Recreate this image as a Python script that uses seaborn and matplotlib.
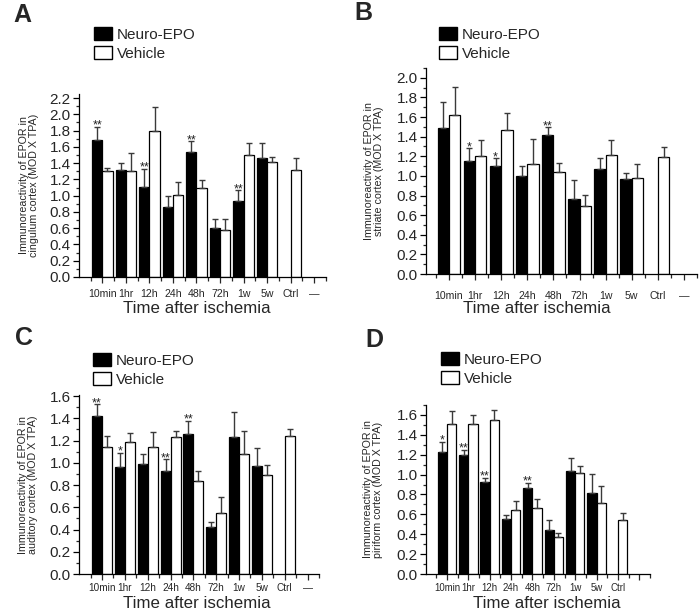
import numpy as np
import pandas as pd
import matplotlib
matplotlib.use("Agg")
import matplotlib.pyplot as plt
import seaborn as sns
from matplotlib.ticker import MultipleLocator
from matplotlib.patches import Patch

# ---------------- data ----------------
times = ['10min', '1hr', '12h', '24h', '48h', '72h', '1w', '5w', 'Ctrl', '—']
labels_abc = ['10min', '1hr', '12h', '24h', '48h', '72h', '1w', '5w', 'Ctrl', '—']
labels_d = ['10min', '1hr', '12h', '24h', '48h', '72h', '1w', '5w', 'Ctrl', '']
groups = ['Neuro-EPO', 'Vehicle']
nan = np.nan

# Panel A: cingulum cortex
a_neuro = [1.69, 1.31, 1.11, 0.86, 1.54, 0.60, 0.94, 1.46, nan]
a_neuro_err = [0.16, 0.09, 0.22, 0.13, 0.13, 0.11, 0.13, 0.19, nan]
a_vehicle = [1.30, 1.30, 1.80, 1.01, 1.10, 0.58, 1.50, 1.42, 1.31]
a_vehicle_err = [0.04, 0.22, 0.29, 0.16, 0.09, 0.13, 0.15, 0.05, 0.15]
a_stars = ['**', '', '**', '', '**', '', '**', '', '']

# Panel B: striate cortex
b_neuro = [1.49, 1.15, 1.10, 1.00, 1.42, 0.76, 1.07, 0.97, nan]
b_neuro_err = [0.26, 0.13, 0.08, 0.10, 0.08, 0.20, 0.11, 0.06, nan]
b_vehicle = [1.62, 1.20, 1.47, 1.12, 1.04, 0.69, 1.21, 0.98, 1.19]
b_vehicle_err = [0.29, 0.17, 0.17, 0.26, 0.09, 0.12, 0.16, 0.14, 0.10]
b_stars = ['', '*', '*', '', '**', '', '', '', '']

# Panel C: auditory cortex
c_neuro = [1.42, 0.96, 0.99, 0.93, 1.26, 0.42, 1.23, 0.97, nan]
c_neuro_err = [0.11, 0.13, 0.09, 0.10, 0.12, 0.05, 0.23, 0.16, nan]
c_vehicle = [1.14, 1.19, 1.14, 1.23, 0.84, 0.55, 1.08, 0.89, 1.24]
c_vehicle_err = [0.10, 0.08, 0.14, 0.06, 0.09, 0.14, 0.21, 0.09, 0.06]
c_stars = ['**', '*', '', '**', '**', '', '', '', '']

# Panel D: piriform cortex
d_neuro = [1.23, 1.20, 0.93, 0.55, 0.87, 0.44, 1.04, 0.81, nan]
d_neuro_err = [0.10, 0.05, 0.04, 0.04, 0.05, 0.10, 0.13, 0.20, nan]
d_vehicle = [1.51, 1.51, 1.55, 0.64, 0.66, 0.37, 1.02, 0.71, 0.54]
d_vehicle_err = [0.13, 0.09, 0.10, 0.09, 0.09, 0.04, 0.07, 0.18, 0.07]
d_stars = ['*', '**', '**', '', '**', '', '', '', '']

ylabel_a = 'Immunoreactivity of EPOR in\ncingulum cortex (MOD X TPA)'
ylabel_b = 'Immunoreactivity of EPOR in\nstriate cortex (MOD X TPA)'
ylabel_c = 'Immunoreactivity of EPOR in\nauditory cortex (MOD X TPA)'
ylabel_d = 'Immunoreactivity of EPOR in\npiriform cortex (MOD X TPA)'
xlabel = 'Time after ischemia'

# ---------------- style ----------------
sns.set_style('ticks')
plt.rcParams['font.family'] = ['Liberation Sans', 'DejaVu Sans']

fig = plt.figure(figsize=(7.0, 6.12), dpi=100)
W, H = 700.0, 612.0


def px_axes(left, top, right, bottom):
    return fig.add_axes([left / W, 1 - bottom / H, (right - left) / W, (bottom - top) / H])


panels = [
    dict(letter='A', neuro=a_neuro, nerr=a_neuro_err, veh=a_vehicle, verr=a_vehicle_err,
         stars=a_stars, ylabel=ylabel_a, ticklabels=labels_abc, ymax=2.25, ytop=2.2,
         box=(79, 94, 326, 277), xlim=(-0.99, 9.05), leg=(94, 27), let=(13, 3),
         xl=(197, 301), yl=39, xfs=7.6, xpad=5),
    dict(letter='B', neuro=b_neuro, nerr=b_neuro_err, veh=b_vehicle, verr=b_vehicle_err,
         stars=b_stars, ylabel=ylabel_b, ticklabels=labels_abc, ymax=2.1, ytop=2.0,
         box=(426, 68, 697, 274), xlim=(-0.88, 9.05), leg=(439, 27), let=(354, 1),
         xl=(537, 301), yl=384, xfs=7.6, xpad=8),
    dict(letter='C', neuro=c_neuro, nerr=c_neuro_err, veh=c_vehicle, verr=c_vehicle_err,
         stars=c_stars, ylabel=ylabel_c, ticklabels=labels_abc, ymax=1.61, ytop=1.6,
         box=(79, 395, 319, 574), xlim=(-1.01, 8.95), leg=(93, 353), let=(15, 326),
         xl=(197, 596), yl=38, xfs=7.2, xpad=2.5),
    dict(letter='D', neuro=d_neuro, nerr=d_neuro_err, veh=d_vehicle, verr=d_vehicle_err,
         stars=d_stars, ylabel=ylabel_d, ticklabels=labels_d, ymax=1.7, ytop=1.6,
         box=(426, 405, 650, 574), xlim=(-0.98, 8.98), leg=(441, 352), let=(365, 328),
         xl=(547, 596), yl=383, xfs=6.9, xpad=2.5),
]

for p in panels:
    left, top, right, bottom = p['box']
    ax = px_axes(left, top, right, bottom)
    rows = []
    for i, t in enumerate(times[:9]):
        if not np.isnan(p['neuro'][i]):
            rows.append((t, 'Neuro-EPO', p['neuro'][i]))
        if not np.isnan(p['veh'][i]):
            rows.append((t, 'Vehicle', p['veh'][i]))
    df = pd.DataFrame(rows, columns=['time', 'group', 'value'])
    sns.barplot(data=df, x='time', y='value', hue='group', order=times, hue_order=groups,
                palette={'Neuro-EPO': 'black', 'Vehicle': 'white'}, edgecolor='black',
                linewidth=0.9, width=0.87, errorbar=None, legend=False, ax=ax)

    errs = {'Neuro-EPO': p['nerr'], 'Vehicle': p['verr']}
    for g, cont in zip(groups, ax.containers):
        xs, ys, es = [], [], []
        for bar in cont.patches:
            h = bar.get_height()
            if h is None or np.isnan(h):
                continue
            xc = bar.get_x() + bar.get_width() / 2
            idx = int(round(xc))
            e = errs[g][idx]
            xs.append(xc); ys.append(h); es.append(e)
            if g == 'Neuro-EPO' and p['stars'][idx]:
                ax.annotate(p['stars'][idx], (xc, h + e), xytext=(0, -1.5),
                            textcoords='offset points', ha='center', va='baseline',
                            fontsize=9, color='#222222')
        ax.errorbar(xs, ys, yerr=[np.zeros(len(es)), es], fmt='none',
                    ecolor='#3a3a3a', elinewidth=1.0, capsize=2.2, capthick=1.0, zorder=3)

    ax.set_xlim(*p['xlim'])
    ax.set_ylim(0, p['ymax'])
    ax.set_yticks(np.arange(0, p['ytop'] + 0.01, 0.2))
    ax.set_yticklabels([f'{v:.1f}' for v in np.arange(0, p['ytop'] + 0.01, 0.2)])
    ax.yaxis.set_minor_locator(MultipleLocator(0.1))
    ax.set_xticks(range(len(times)))
    ax.set_xticklabels(p['ticklabels'])
    ax.set_xticks(np.arange(-0.5, len(times), 1.0), minor=True)
    ax.tick_params(axis='y', which='major', labelsize=11, length=4, width=0.9, pad=2,
                   direction='out', color='black')
    ax.tick_params(axis='y', which='minor', length=2.5, width=0.9, direction='out')
    ax.tick_params(axis='x', which='major', labelsize=p['xfs'], length=4, width=0.9,
                   pad=p['xpad'], direction='out')
    ax.tick_params(axis='x', which='minor', length=3, width=0.9, direction='out')
    sns.despine(ax=ax)
    for s in ('left', 'bottom'):
        ax.spines[s].set_linewidth(0.9)
        ax.spines[s].set_color('black')

    ax.set_ylabel(p['ylabel'], fontsize=7.7, linespacing=1.05)
    ax.yaxis.set_label_coords((p['yl'] - left) / (right - left), 0.5)
    ax.set_xlabel(xlabel, fontsize=12.2, va='top')
    ax.xaxis.set_label_coords((p['xl'][0] - left) / (right - left),
                              (bottom - p['xl'][1]) / (bottom - top))

    handles = [Patch(facecolor='black', edgecolor='black', linewidth=1.0),
               Patch(facecolor='white', edgecolor='black', linewidth=1.0)]
    fig.legend(handles, groups, loc='upper left',
               bbox_to_anchor=(p['leg'][0] / W, 1 - p['leg'][1] / H),
               frameon=False, fontsize=11, handlelength=1.15, handleheight=0.9,
               handletextpad=0.35, labelspacing=0.3, borderpad=0, borderaxespad=0)

    fig.text(p['let'][0] / W, 1 - p['let'][1] / H, p['letter'], fontsize=18,
             fontweight='bold', ha='left', va='top')

fig.savefig('out.png', dpi=100)
